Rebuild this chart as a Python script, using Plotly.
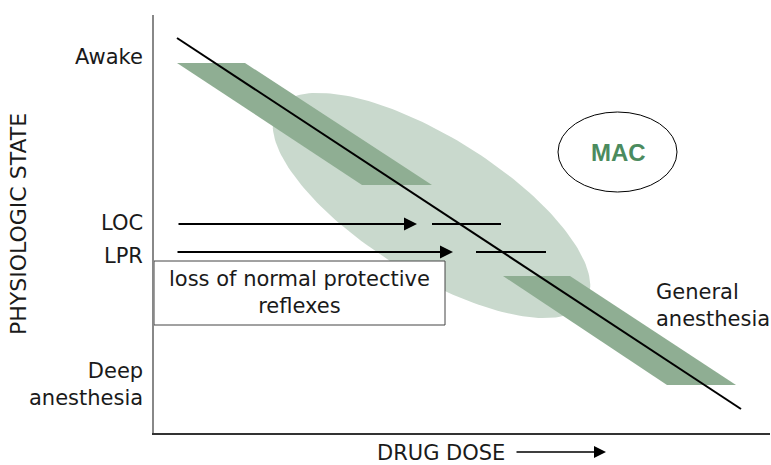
import numpy as np
import plotly.graph_objects as go

# ---- diagram data (dose units horizontally, state units vertically) ----
line_dose = [23, 587]
line_state = [395, 24]

band_awake_dose = [23, 91, 278, 208]
band_awake_state = [370, 370, 248, 248]

band_ga_dose = [349, 416, 582, 513]
band_ga_state = [157, 157, 48, 48]

mac_zone_center = [277.5, 227.5]
mac_zone_axes = [182, 69]
mac_zone_angle_deg = -31.9

loc_arrow_dose = [23, 263]
loc_state = 209
loc_segment_dose = [278, 347]

lpr_arrow_dose = [22, 299]
lpr_state = 181
lpr_segment_dose = [322, 392]

state_labels = ["Awake", "LOC", "LPR", "Deep<br>anesthesia"]
state_label_pos = [376, 210, 177, 49]

X_SPAN = 616.0
Y_SPAN = 418.0
FONT = "'DejaVu Sans', sans-serif"
DARK_GREEN = "#8fae93"
LIGHT_GREEN = "#c9d9cd"


def px(x):
    return x / X_SPAN


def py(y):
    return y / Y_SPAN


fig = go.Figure()

# MAC zone ellipse
t = np.linspace(0, 2 * np.pi, 200)
th = np.deg2rad(mac_zone_angle_deg)
a, b = mac_zone_axes
ex = mac_zone_center[0] + a * np.cos(t) * np.cos(th) - b * np.sin(t) * np.sin(th)
ey = mac_zone_center[1] + a * np.cos(t) * np.sin(th) + b * np.sin(t) * np.cos(th)
fig.add_trace(go.Scatter(x=ex, y=ey, fill="toself", fillcolor=LIGHT_GREEN,
                         line=dict(width=0), mode="lines", hoverinfo="skip"))

for bx, by in [(band_awake_dose, band_awake_state), (band_ga_dose, band_ga_state)]:
    fig.add_trace(go.Scatter(x=bx + [bx[0]], y=by + [by[0]], fill="toself",
                             fillcolor=DARK_GREEN, line=dict(width=0),
                             mode="lines", hoverinfo="skip"))

fig.add_trace(go.Scatter(x=line_dose, y=line_state, mode="lines",
                         line=dict(color="black", width=2), hoverinfo="skip"))

for seg, st in [(loc_segment_dose, loc_state), (lpr_segment_dose, lpr_state)]:
    fig.add_trace(go.Scatter(x=seg, y=[st, st], mode="lines",
                             line=dict(color="black", width=2), hoverinfo="skip"))

annotations = []
for arr, st in [(loc_arrow_dose, loc_state), (lpr_arrow_dose, lpr_state)]:
    annotations.append(dict(x=arr[1], y=st, ax=arr[0], ay=st, xref="x", yref="y",
                            axref="x", ayref="y", showarrow=True, arrowhead=2,
                            arrowsize=1.3, arrowwidth=2, arrowcolor="black", text=""))

TXT = dict(family=FONT, size=21, color="#1a1a1a", weight="normal")
for lab, pos in zip(state_labels, state_label_pos):
    annotations.append(dict(x=px(-9), y=py(pos), xref="paper", yref="paper", text=lab,
                            showarrow=False, xanchor="right", yanchor="middle",
                            align="right", font=TXT))

annotations.append(dict(x=px(500), y=py(128), xref="paper", yref="paper",
                        text="General<br>anesthesia", showarrow=False,
                        xanchor="left", yanchor="middle", align="left", font=TXT))

annotations.append(dict(x=145.5, y=140.5, xref="x", yref="y",
                        text="loss of normal protective<br>reflexes", showarrow=False,
                        xanchor="center", yanchor="middle", align="center", font=TXT))

annotations.append(dict(x=464, y=281, xref="x", yref="y", text="<b>MAC</b>",
                        showarrow=False, font=dict(family="Liberation Sans, Arial", size=24,
                                                   color="#4b8b5e")))

annotations.append(dict(x=px(287), y=py(-20), xref="paper", yref="paper", text="DRUG DOSE",
                        showarrow=False, xanchor="center", yanchor="middle", font=TXT,
                        borderpad=0))
annotations.append(dict(x=px(452), y=py(-19), ax=-91, ay=0, xref="paper",
                        yref="paper", axref="pixel", ayref="pixel", showarrow=True,
                        arrowhead=2, arrowsize=1.5, arrowwidth=1.6, arrowcolor="black",
                        text=""))

annotations.append(dict(x=px(-136), y=py(209), xref="paper", yref="paper",
                        text="PHYSIOLOGIC STATE", showarrow=False, textangle=-90,
                        xanchor="center", yanchor="middle",
                        font=dict(family=FONT, size=22, color="#1a1a1a", weight="normal")))

shapes = [
    dict(type="rect", xref="x", yref="y", x0=0, x1=291, y0=108, y1=172,
         line=dict(color="#444", width=1), fillcolor="white", layer="above"),
    dict(type="circle", xref="x", yref="y", x0=404, x1=523, y0=241, y1=321,
         line=dict(color="black", width=1)),
]

fig.update_layout(
    width=771, height=465,
    margin=dict(l=154, r=1, t=15, b=32, autoexpand=False),
    paper_bgcolor="white", plot_bgcolor="white",
    showlegend=False,
    annotations=annotations,
    shapes=shapes,
    xaxis=dict(range=[0, X_SPAN], showgrid=False, zeroline=False, showticklabels=False,
               ticks="", showline=True, linecolor="#333", linewidth=1.5, fixedrange=True),
    yaxis=dict(range=[0, Y_SPAN], showgrid=False, zeroline=False, showticklabels=False,
               ticks="", showline=True, linecolor="#888", linewidth=1.5, fixedrange=True),
)

fig.write_html("out.html", config={"displayModeBar": False},
               post_script="document.body.style.margin='0';document.body.style.overflow='hidden';")
